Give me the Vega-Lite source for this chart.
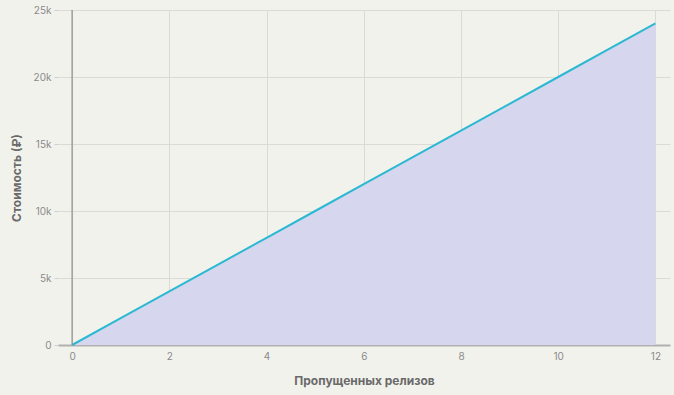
{
  "$schema": "https://vega.github.io/schema/vega-lite/v6.json",
  "width": 612,
  "height": 335,
  "autosize": {"type": "none"},
  "padding": {"left": 58, "top": 10, "right": 4, "bottom": 50},
  "background": "#f2f2ed",
  "config": {
    "view": {"stroke": null},
    "font": "Inter",
    "axis": {
      "labelColor": "#8a8a8a",
      "labelFont": "Inter",
      "labelFontSize": 10,
      "titleFont": "Inter",
      "titleColor": "#6a6a6a",
      "titleFontSize": 12,
      "titleFontWeight": "bold",
      "gridColor": "#dadad6",
      "gridWidth": 1,
      "tickColor": "#cfcfcf"
    }
  },
  "data": {
    "values": [
      {"x": 0, "y": 0}, {"x": 1, "y": 2000}, {"x": 2, "y": 4000}, {"x": 3, "y": 6000},
      {"x": 4, "y": 8000}, {"x": 5, "y": 10000}, {"x": 6, "y": 12000}, {"x": 7, "y": 14000},
      {"x": 8, "y": 16000}, {"x": 9, "y": 18000}, {"x": 10, "y": 20000}, {"x": 11, "y": 22000},
      {"x": 12, "y": 24000}
    ]
  },
  "layer": [
    {
      "mark": {"type": "area", "color": "#d6d7ef", "opacity": 1},
      "encoding": {
        "x": {
          "field": "x", "type": "quantitative",
          "scale": {"domain": [-0.29, 12.3], "nice": false, "zero": false},
          "axis": {
            "values": [0, 2, 4, 6, 8, 10, 12],
            "title": "Пропущенных релизов",
            "domainColor": "#b0b0b0", "domainWidth": 2,
            "ticks": false, "labelPadding": 6, "titlePadding": 14,
            "grid": true
          }
        },
        "y": {
          "field": "y", "type": "quantitative",
          "scale": {"domain": [0, 25000], "nice": false},
          "axis": {
            "values": [0, 5000, 10000, 15000, 20000, 25000],
            "labelExpr": "datum.value == 0 ? '0' : (datum.value/1000) + 'k'",
            "title": "Стоимость (₽)",
            "titleX": -35,
            "domain": false, "tickSize": 4, "labelPadding": 3,
            "grid": true
          }
        }
      }
    },
    {
      "mark": {"type": "line", "color": "#2bb8d1", "strokeWidth": 2},
      "encoding": {
        "x": {"field": "x", "type": "quantitative"},
        "y": {"field": "y", "type": "quantitative"}
      }
    },
    {
      "data": {"values": [{"x": 0, "y0": 0, "y1": 25000}]},
      "mark": {"type": "rule", "color": "#8c8c8c", "strokeWidth": 1.2},
      "encoding": {
        "x": {"field": "x", "type": "quantitative"},
        "y": {"field": "y0", "type": "quantitative"},
        "y2": {"field": "y1"}
      }
    }
  ]
}
